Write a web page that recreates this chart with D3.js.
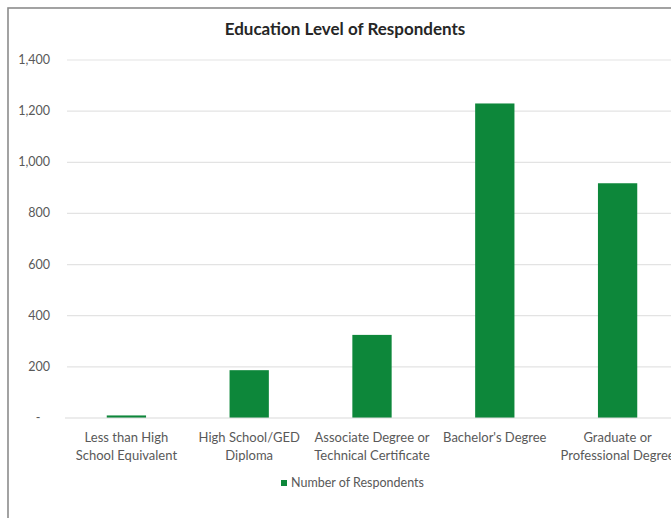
<!DOCTYPE html>
<html>
<head>
<meta charset="utf-8">
<script src="https://cdn.jsdelivr.net/npm/d3@7"></script>
<style>
  html, body { margin: 0; padding: 0; background: #ffffff; overflow: hidden; }
  svg { display: block; font-family: Lato, "Open Sans", sans-serif; }
</style>
</head>
<body>
<svg id="chart" width="671" height="518"></svg>
<script>
const title = "Education Level of Respondents";
const categories = [
  ["Less than High", "School Equivalent"],
  ["High School/GED", "Diploma"],
  ["Associate Degree or", "Technical Certificate"],
  ["Bachelor's Degree"],
  ["Graduate or", "Professional Degree"]
];
const seriesName = "Number of Respondents";
const values = [10, 187, 325, 1230, 918];
const yTicks = [0, 200, 400, 600, 800, 1000, 1200, 1400];

const svg = d3.select("#chart");
const margin = { left: 65, top: 60 };
const plotRight = 679, plotBottom = 418;

// frame
svg.append("rect")
  .attr("x", 8).attr("y", 8)
  .attr("width", 700).attr("height", 560)
  .attr("fill", "#ffffff")
  .attr("stroke", "#8c8c8c").attr("stroke-width", 1.6);

const x = d3.scaleBand()
  .domain(d3.range(categories.length))
  .range([margin.left, plotRight])
  .paddingInner(0.68).paddingOuter(0.34);

const y = d3.scaleLinear().domain([0, 1400]).range([plotBottom, margin.top]);

// gridlines
svg.append("g")
  .selectAll("line").data(yTicks.filter(d => d > 0)).join("line")
  .attr("x1", margin.left + 2).attr("x2", plotRight)
  .attr("y1", d => y(d)).attr("y2", d => y(d))
  .attr("stroke", "#e3e3e3").attr("stroke-width", 1.2);

// y labels
const fmt = d3.format(",");
svg.append("g")
  .selectAll("text").data(yTicks).join("text")
  .attr("x", 50).attr("y", d => y(d) + 4)
  .attr("text-anchor", d => d === 0 ? "middle" : "end")
  .attr("dx", d => d === 0 ? -12 : 0)
  .attr("font-size", 12.5).attr("fill", "#595959")
  .text(d => d === 0 ? "-" : fmt(d));

// bars
svg.append("g")
  .selectAll("rect").data(values).join("rect")
  .attr("x", (d, i) => x(i))
  .attr("width", x.bandwidth())
  .attr("y", d => y(d))
  .attr("height", d => y(0) - y(d))
  .attr("fill", "#0d873a");

// baseline
svg.append("line")
  .attr("x1", margin.left).attr("x2", plotRight)
  .attr("y1", y(0)).attr("y2", y(0))
  .attr("stroke", "#d9d9d9").attr("stroke-width", 1.2);

// category labels
const cat = svg.append("g").selectAll("text").data(categories).join("text")
  .attr("text-anchor", "middle")
  .attr("font-size", 13).attr("fill", "#595959")
  .attr("transform", (d, i) => `translate(${x(i) + x.bandwidth() / 2},442)`);
cat.selectAll("tspan").data(d => d).join("tspan")
  .attr("x", 0).attr("dy", (d, j) => j === 0 ? 0 : 18)
  .text(d => d);

// title
svg.append("text")
  .attr("x", 345).attr("y", 35)
  .attr("text-anchor", "middle")
  .attr("font-size", 17).attr("font-weight", "bold").attr("fill", "#262626")
  .text(title);

// legend
svg.append("rect").attr("x", 281).attr("y", 480).attr("width", 6).attr("height", 6).attr("fill", "#0d873a");
svg.append("text").attr("x", 291).attr("y", 487)
  .attr("font-size", 12.5).attr("fill", "#595959")
  .text(seriesName);
</script>
</body>
</html>
